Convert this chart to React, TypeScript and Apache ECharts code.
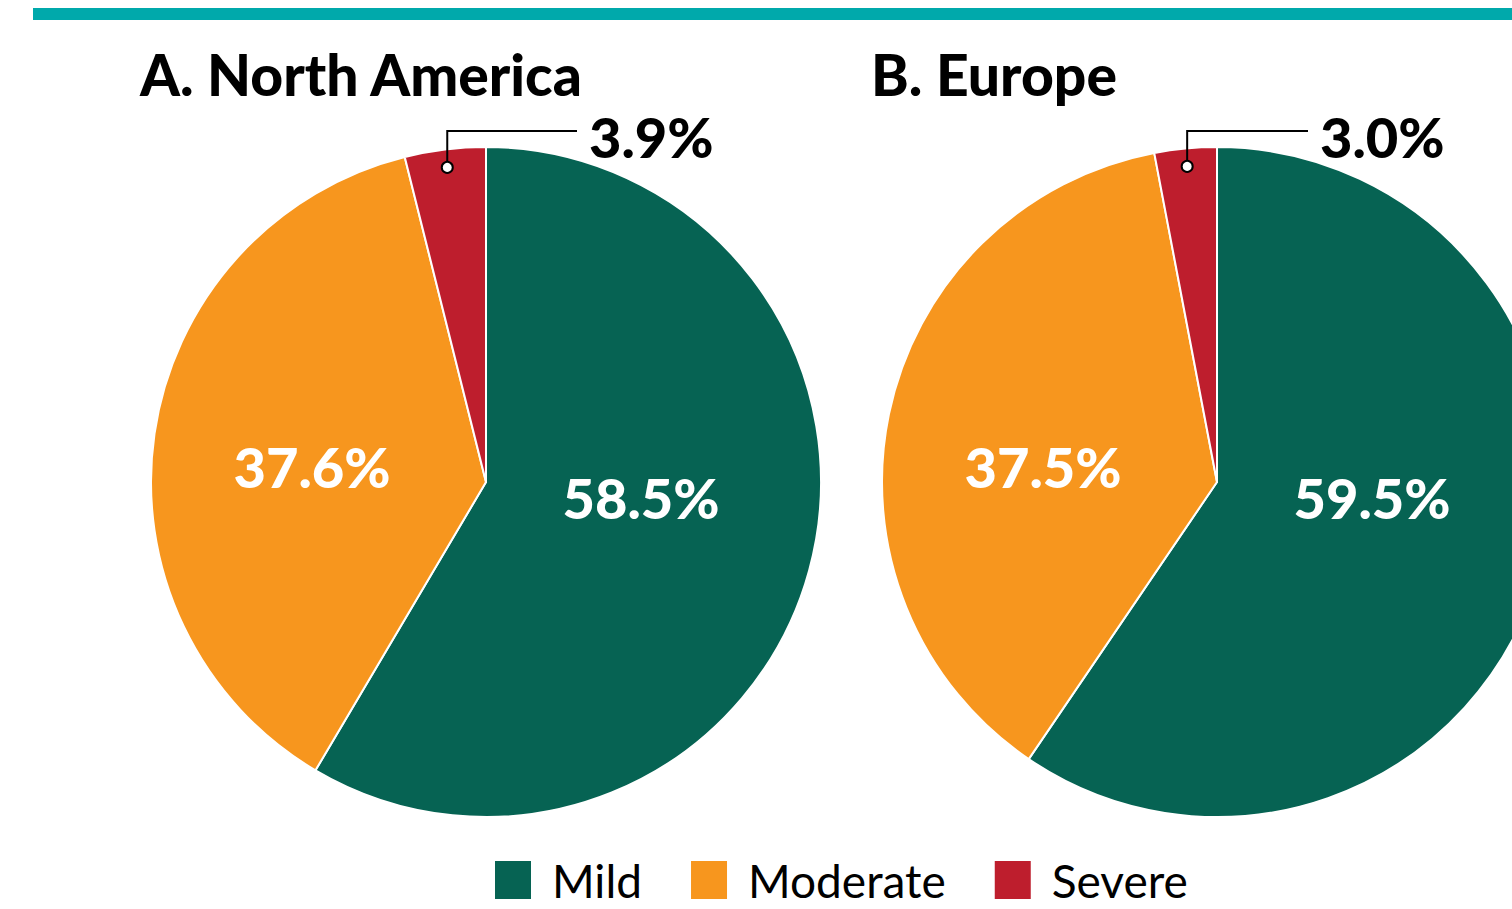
import React, { useEffect, useRef } from "react";
import * as echarts from "echarts";

// Severity categories and their shares (%) by region
const categories = ["Mild", "Moderate", "Severe"];
const northAmerica = [58.5, 37.6, 3.9];
const europe = [59.5, 37.5, 3.0];
const regionTitles = ["A. North America", "B. Europe"];

const colors = ["#066353", "#F7961E", "#BE1E2D"];
const FONT = "Lato, 'Open Sans', sans-serif";

const W = 1512;
const H = 909;
const RADIUS = 335;
const centers: [number, number][] = [
  [486, 482],
  [1217, 482],
];

const fmt = (v: number) => `${v.toFixed(1)}%`;

export default function App() {
  const ref = useRef<HTMLDivElement>(null);

  useEffect(() => {
    document.body.style.margin = "0";
    if (!ref.current) return;
    const chart = echarts.init(ref.current, null, { renderer: "svg" });

    const regions = [northAmerica, europe];

    const graphics: any[] = [
      // teal rule across the top
      {
        type: "rect",
        shape: { x: 33, y: 8, width: W - 33, height: 12 },
        style: { fill: "#00A9AB" },
        z: 100,
      },
    ];

    regions.forEach((vals, i) => {
      const [cx, cy] = centers[i];
      const total = vals.reduce((a, b) => a + b, 0);
      graphics.push({
        type: "text",
        x: cx - 346,
        y: 74,
        z: 100,
        style: {
          text: regionTitles[i],
          font: `900 57px ${FONT}`,
          fill: "#000",
          verticalAlign: "middle",
        },
      });
      // value labels for the two large slices
      graphics.push({
        type: "text",
        x: cx + 155,
        y: cy + 15,
        z: 100,
        style: {
          text: fmt(vals[0]),
          font: `900 56px ${FONT}`,
          fill: "#fff",
          align: "center",
          verticalAlign: "middle",
        },
      });
      graphics.push({
        type: "text",
        x: cx - 174,
        y: cy - 16,
        z: 100,
        style: {
          text: fmt(vals[1]),
          font: `900 56px ${FONT}`,
          fill: "#fff",
          align: "center",
          verticalAlign: "middle",
        },
      });
      // leader from the middle of the smallest slice
      const before = vals[0] + vals[1];
      const midFrac = (before + vals[2] / 2) / total;
      const ang = midFrac * 2 * Math.PI;
      const rDot = 317;
      const dx = cx + Math.sin(ang) * rDot;
      const dy = cy - Math.cos(ang) * rDot;
      const lineY = 131;
      const lineEnd = cx + 91;
      graphics.push({
        type: "polyline",
        z: 100,
        shape: {
          points: [
            [dx, dy],
            [dx, lineY],
            [lineEnd, lineY],
          ],
        },
        style: { stroke: "#000", lineWidth: 2, fill: null },
      });
      graphics.push({
        type: "circle",
        z: 101,
        shape: { cx: dx, cy: dy, r: 5.5 },
        style: { fill: "#fff", stroke: "#000", lineWidth: 2 },
      });
      graphics.push({
        type: "text",
        x: cx + 103,
        y: 136,
        z: 100,
        style: {
          text: fmt(vals[2]),
          font: `900 56px ${FONT}`,
          fill: "#000",
          verticalAlign: "middle",
        },
      });
    });

    const option: any = {
      animation: false,
      backgroundColor: "#fff",
      color: colors,
      legend: {
        data: categories,
        left: 493,
        top: 857,
        padding: 0,
        itemWidth: 38,
        itemHeight: 40,
        itemGap: 47,
        icon: "rect",
        textStyle: {
          fontFamily: FONT,
          fontSize: 46,
          lineHeight: 40,
          color: "#000",
          padding: [0, 0, 0, 15],
        },
        selectedMode: false,
      },
      series: regions.map((vals, i) => ({
        type: "pie",
        center: centers[i],
        radius: [0, RADIUS],
        startAngle: 90,
        clockwise: true,
        label: { show: false },
        labelLine: { show: false },
        emphasis: { disabled: true },
        itemStyle: { borderColor: "#fff", borderWidth: 2 },
        data: categories.map((name, k) => ({
          name,
          value: vals[k],
          itemStyle: { color: colors[k] },
        })),
      })),
      graphic: graphics,
    };

    chart.setOption(option);
    return () => chart.dispose();
  }, []);

  return <div ref={ref} style={{ width: W, height: H }} />;
}
